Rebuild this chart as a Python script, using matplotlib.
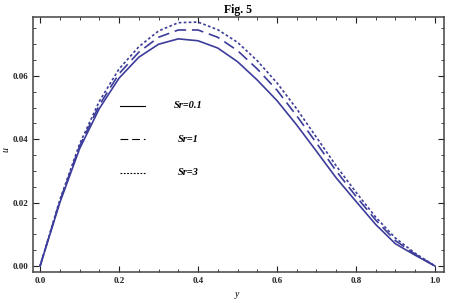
import numpy as np
import matplotlib
matplotlib.use("Agg")
import matplotlib.pyplot as plt
from matplotlib.ticker import MultipleLocator

# data (y on a 0.05 grid)
y = np.linspace(0, 1, 21)
u_sr01 = [0, 0.0200, 0.0370, 0.0497, 0.0593, 0.0659, 0.0700, 0.0717, 0.0711, 0.0688,
          0.0645, 0.0587, 0.0522, 0.0445, 0.0362, 0.0278, 0.0204, 0.0131, 0.0070, 0.0034, 0]
u_sr1 = [0, 0.0205, 0.0378, 0.0508, 0.0607, 0.0675, 0.0722, 0.0745, 0.0745, 0.0722,
         0.0680, 0.0622, 0.0555, 0.0474, 0.0388, 0.0300, 0.0220, 0.0145, 0.0080, 0.0037, 0]
u_sr3 = [0, 0.0209, 0.0385, 0.0520, 0.0622, 0.0692, 0.0742, 0.0768, 0.0770, 0.0746,
         0.0706, 0.0648, 0.0578, 0.0496, 0.0406, 0.0316, 0.0233, 0.0154, 0.0088, 0.0040, 0]
labels = ["Sr=0.1", "Sr=1", "Sr=3"]

col = "#3c3c9a"
styles = ["-", (0, (7, 3.5)), (0, (1.6, 1.4))]

plt.rcParams['font.family'] = ['Liberation Serif', 'DejaVu Serif']

fig = plt.figure(figsize=(4.5, 3.03), dpi=100)
ax = fig.add_axes([0.0733, 0.1023, 0.9134, 0.8416])

for u, ls in zip([u_sr01, u_sr1, u_sr3], styles):
    ax.plot(y, u, color=col, lw=1.2, linestyle=ls)

ax.set_xlim(-0.018, 1.023)
ax.set_ylim(-0.0019, 0.0786)

ax.xaxis.set_major_locator(MultipleLocator(0.2))
ax.xaxis.set_minor_locator(MultipleLocator(0.05))
ax.yaxis.set_major_locator(MultipleLocator(0.02))
ax.yaxis.set_minor_locator(MultipleLocator(0.005))
ax.xaxis.set_major_formatter(plt.FormatStrFormatter('%.1f'))
ax.yaxis.set_major_formatter(plt.FormatStrFormatter('%.2f'))
ax.tick_params(which='both', direction='in', top=True, right=True, labelsize=6.5, colors='#222222')
ax.tick_params(which='major', length=4, width=0.8)
ax.tick_params(which='minor', length=2, width=0.6)
for lab in ax.get_xticklabels() + ax.get_yticklabels():
    lab.set_fontweight('bold')
for s in ax.spines.values():
    s.set_color('#444444')
    s.set_linewidth(1.1)

ax.set_xlabel('y', style='italic', fontsize=7)
ax.set_ylabel('u', style='italic', fontsize=7)
ax.xaxis.set_label_coords(0.497, -0.072)
ax.yaxis.set_label_coords(-0.054, 0.48)
ax.set_title('Fig. 5', fontweight='bold', fontsize=8.5, pad=3)

# legend drawn inside the plot like the original
rows = [0.652, 0.521, 0.390]
for ls, lab, ry in zip(styles, labels, rows):
    ax.plot([0.212, 0.273], [ry, ry], transform=ax.transAxes, color='black', lw=0.8, linestyle=ls)
    ax.text(0.378, ry, lab, transform=ax.transAxes, ha='center', va='center',
            fontsize=7.5, style='italic', fontweight='bold')

fig.savefig('out.png', dpi=100)
